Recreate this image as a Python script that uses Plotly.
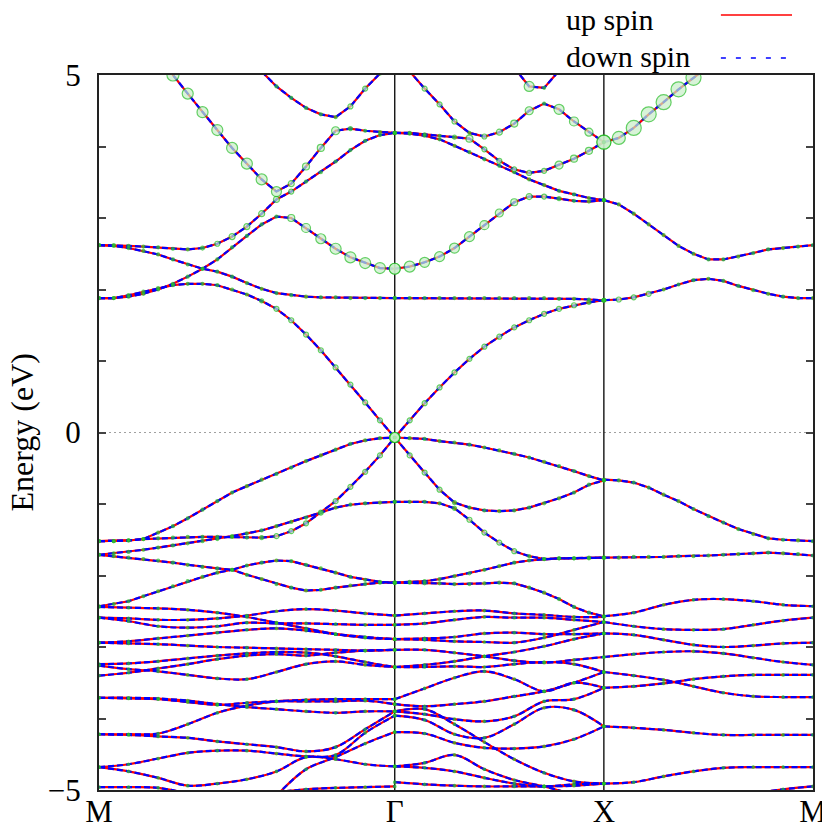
import numpy as np
import plotly.graph_objects as go

# path M -> Gamma -> X -> M
k_labels = ["M", "Γ", "X", "M"]
seg_len = [np.sqrt(2), 1.0, 1.0]
k_sym = np.concatenate([[0.0], np.cumsum(seg_len)])
n_fine = [21, 15, 15]     # k-points per segment of the calculation
n_coarse = [11, 8, 8]     # every second k-point

# ---------------- bands near the Fermi level (every k-point) ----------------
# M-Gamma
D_mg   = [1.88, 1.88, 1.92, 1.97, 2.02, 2.06, 2.08, 2.08, 2.06, 2.0, 1.93, 1.84, 1.73, 1.57, 1.37, 1.15, 0.91, 0.67, 0.42, 0.17, -0.07]
B2_mg  = [1.88, 1.88, 1.9, 1.94, 2.0, 2.08, 2.18, 2.29, 2.42, 2.59, 2.75, 2.91, 3.02, 3.0, 2.86, 2.71, 2.57, 2.45, 2.37, 2.3, 2.29]
B3_mg  = [2.62, 2.61, 2.58, 2.54, 2.49, 2.42, 2.35, 2.29, 2.25, 2.18, 2.09, 2.01, 1.95, 1.92, 1.9, 1.89, 1.89, 1.88, 1.88, 1.88, 1.88]
B4_mg  = [2.62, 2.62, 2.61, 2.6, 2.59, 2.57, 2.56, 2.58, 2.64, 2.74, 2.88, 3.06, 3.26, 3.37, 3.51, 3.64, 3.79, 3.95, 4.08, 4.16, 4.19]
B5_mg  = [None, None, None, None, 5.3, 5.0, 4.74, 4.48, 4.23, 3.98, 3.76, 3.54, 3.37, 3.48, 3.72, 3.98, 4.22, 4.25, 4.22, 4.2, 4.19]
B6_mg  = [None, None, None, None, None, None, None, None, None, None, None, 5.05, 4.84, 4.68, 4.54, 4.45, 4.41, 4.56, 4.81, 5.02, 5.3]
V1_mg  = [-1.52, -1.52, -1.51, -1.49, -1.4, -1.31, -1.2, -1.08, -0.96, -0.84, -0.75, -0.66, -0.58, -0.49, -0.4, -0.32, -0.24, -0.16, -0.11, -0.08, -0.07]
V2_mg  = [-1.52, -1.52, -1.51, -1.49, -1.48, -1.47, -1.46, -1.46, -1.46, -1.46, -1.47, -1.47, -1.45, -1.38, -1.27, -1.12, -0.96, -0.76, -0.55, -0.32, -0.07]
V3_mg  = [-1.71, -1.69, -1.67, -1.64, -1.61, -1.58, -1.55, -1.52, -1.49, -1.45, -1.41, -1.37, -1.31, -1.25, -1.19, -1.12, -1.05, -1.01, -0.99, -0.98, -0.97]
V6_mg  = [-1.71, -1.73, -1.75, -1.77, -1.79, -1.82, -1.85, -1.88, -1.9, -1.92, -1.86, -1.82, -1.79, -1.8, -1.85, -1.9, -1.96, -2.02, -2.06, -2.09, -2.1]
V7_mg  = [-2.43, -2.4, -2.36, -2.29, -2.22, -2.15, -2.08, -2.02, -1.96, -1.92, -1.99, -2.05, -2.12, -2.17, -2.21, -2.2, -2.17, -2.14, -2.12, -2.1, -2.1]
# Gamma-X
D_gx   = [-0.07, 0.17, 0.41, 0.63, 0.84, 1.03, 1.2, 1.34, 1.47, 1.57, 1.66, 1.73, 1.78, 1.82, 1.85]
B2_gx  = [2.29, 2.32, 2.38, 2.46, 2.58, 2.74, 2.9, 3.07, 3.22, 3.3, 3.3, 3.27, 3.24, 3.23, 3.25]
B3_gx  = [1.88, 1.88, 1.88, 1.88, 1.88, 1.88, 1.88, 1.88, 1.88, 1.88, 1.88, 1.87, 1.87, 1.86, 1.85]
B4_gx  = [4.19, 4.18, 4.15, 4.1, 4.01, 3.92, 3.82, 3.73, 3.64, 3.54, 3.46, 3.38, 3.33, 3.28, 3.25]
B5_gx  = [4.19, 4.19, 4.17, 4.15, 4.13, 4.11, 3.96, 3.8, 3.68, 3.63, 3.66, 3.74, 3.83, 3.94, 4.06]
T1_gx  = [5.4, 5.05, 4.81, 4.59, 4.35, 4.19, 4.14, 4.2, 4.32, 4.5, 4.6, 4.52, 4.35, 4.2, 4.06]
T2_gx  = [None, None, None, None, None, None, None, None, 5.1, 4.84, 4.82, 5.05, 5.3, None, None]
V1_gx  = [-0.07, -0.08, -0.09, -0.12, -0.14, -0.17, -0.21, -0.25, -0.3, -0.35, -0.41, -0.47, -0.54, -0.61, -0.67]
V2_gx  = [-0.07, -0.32, -0.56, -0.8, -0.98, -1.05, -1.09, -1.1, -1.09, -1.05, -0.99, -0.92, -0.84, -0.73, -0.67]
V3_gx  = [-0.97, -0.97, -0.97, -0.99, -1.06, -1.22, -1.4, -1.54, -1.66, -1.73, -1.77, -1.76, -1.76, -1.75, -1.75]
V4_gx  = [-2.1, -2.1, -2.11, -2.11, -2.12, -2.12, -2.11, -2.1, -2.11, -2.17, -2.24, -2.33, -2.44, -2.52, -2.57]
V5_gx  = [-2.1, -2.09, -2.08, -2.05, -2.01, -1.97, -1.92, -1.87, -1.82, -1.79, -1.77, -1.76, -1.76, -1.76, -1.75]
# X-M
D_xm   = [1.85, 1.86, 1.89, 1.94, 2.0, 2.07, 2.13, 2.15, 2.12, 2.05, 1.99, 1.94, 1.9, 1.88, 1.88]
B2_xm  = [3.25, 3.19, 3.06, 2.91, 2.76, 2.61, 2.5, 2.42, 2.42, 2.46, 2.51, 2.56, 2.58, 2.6, 2.62]
B5_xm  = [4.06, 4.12, 4.26, 4.45, 4.62, 4.8, 4.96, 5.12, 5.3, None, None, None, None, None, None]
V1_xm  = [-0.66, -0.67, -0.7, -0.77, -0.87, -0.96, -1.07, -1.17, -1.26, -1.35, -1.42, -1.48, -1.5, -1.51, -1.52]
V3_xm  = [-1.75, -1.75, -1.74, -1.74, -1.74, -1.73, -1.73, -1.72, -1.71, -1.7, -1.69, -1.68, -1.69, -1.7, -1.72]

# projected weight -> circle diameter (px)
w_D_mg  = [3, 3, 3, 3, 3, 3, 3, 3, 3, 3, 3, 4, 5, 5, 5, 5, 5, 5, 5, 5, 10]
w_B2_mg = [3, 3, 3, 3, 3, 3, 3, 3, 3, 3, 3, 3, 3, 7, 9, 10, 11, 11, 11, 11, 11]
w_B4_mg = [3, 3, 3, 3, 3, 3, 3, 4, 5, 6, 6, 6, 6, 5, 3, 3, 3, 3, 3, 3, 3]
w_B5_mg = [3, 3, 3, 3, 12, 12, 11, 11, 11, 11, 11, 11, 10, 6, 7, 7, 8, 4, 3, 3, 3]
w_B6_mg = [3, 3, 3, 3, 3, 3, 3, 3, 3, 3, 3, 3, 3, 3, 3, 3, 3, 5, 5, 3, 3]
w_V2_mg = [3, 3, 3, 3, 3, 3, 3, 3, 3, 3, 3, 4, 5, 5, 5, 5, 5, 5, 5, 5, 10]
w_D_gx  = [10, 5, 5, 5, 5, 5, 5, 5, 5, 5, 5, 5, 5, 4, 4]
w_B2_gx = [11, 11, 10, 10, 10, 10, 9, 8, 7, 6, 5, 4, 3, 3, 3]
w_B5_gx = [3, 3, 3, 3, 4, 7, 5, 5, 5, 5, 5, 8, 7, 7, 14]
w_T1_gx = [3, 3, 5, 5, 5, 3, 5, 6, 7, 8, 3, 10, 9, 8, 3]
w_T2_gx = [3, 3, 3, 3, 3, 3, 3, 3, 3, 10, 3, 3, 3, 3, 3]
w_V2_gx = [10, 5, 5, 5, 4, 3, 3, 3, 3, 3, 3, 3, 3, 3, 3]
w_V3_gx = [3, 3, 3, 3, 4, 5, 5, 5, 5, 3, 3, 3, 3, 3, 3]
w_D_xm  = [4, 5, 5, 5, 3, 3, 3, 3, 3, 3, 3, 3, 3, 3, 3]
w_B5_xm = [14, 13, 15, 15, 15, 15, 15, 15, 15, 3, 3, 3, 3, 3, 3]

# ---------------- deeper valence bands (every second k-point) ----------------
mg_low = [
    [-2.44, -2.45, -2.46, -2.48, -2.52, -2.58, -2.66, -2.74, -2.82, -2.87, -2.89],
    [-2.59, -2.6, -2.62, -2.62, -2.6, -2.56, -2.5, -2.47, -2.49, -2.53, -2.56],
    [-2.59, -2.64, -2.71, -2.73, -2.71, -2.66, -2.67, -2.67, -2.68, -2.69, -2.69],
    [-2.94, -2.95, -2.96, -2.98, -3.0, -3.01, -3.02, -3.03, -3.04, -3.05, -3.04],
    [-2.94, -2.92, -2.88, -2.84, -2.8, -2.76, -2.74, -2.77, -2.82, -2.86, -2.89],
    [-3.24, -3.23, -3.2, -3.16, -3.12, -3.09, -3.07, -3.08, -3.13, -3.21, -3.28],
    [-3.26, -3.31, -3.34, -3.39, -3.44, -3.45, -3.35, -3.24, -3.2, -3.25, -3.28],
    [-3.4, -3.36, -3.3, -3.24, -3.17, -3.12, -3.1, -3.12, -3.08, -3.05, -3.04],
    [-3.71, -3.71, -3.72, -3.75, -3.8, -3.84, -3.87, -3.9, -3.92, -3.9, -3.9],
    [-3.71, -3.72, -3.73, -3.77, -3.81, -3.78, -3.76, -3.76, -3.76, -3.75, -3.8],
    [-4.22, -4.22, -4.21, -4.08, -3.92, -3.82, -3.76, -3.74, -3.73, -3.73, -3.73],
    [-4.22, -4.23, -4.25, -4.27, -4.32, -4.36, -4.4, -4.46, -4.4, -4.15, -3.9],
    [-4.68, -4.64, -4.56, -4.48, -4.45, -4.45, -4.49, -4.53, -4.51, -4.2, -3.96],
    [-4.68, -4.74, -4.83, -4.94, -4.91, -4.85, -4.74, -4.54, -4.57, -4.64, -4.67],
    [None, None, None, None, None, None, -5.08, -4.71, -4.54, -4.35, -4.19],
    [-4.96, -4.96, -4.97, -5.05, None, None, -5.03, -4.99, -4.97, -4.96, -4.95],
]
gx_low = [
    [-2.56, -2.53, -2.5, -2.49, -2.53, -2.55, -2.58, -2.58],
    [-2.69, -2.67, -2.62, -2.58, -2.59, -2.59, -2.62, -2.65],
    [-2.89, -2.88, -2.86, -2.81, -2.8, -2.82, -2.82, -2.81],
    [-2.89, -2.9, -2.92, -2.93, -2.94, -2.87, -2.76, -2.65],
    [-3.04, -3.04, -3.08, -3.13, -3.19, -3.22, -3.18, -3.14],
    [-3.28, -3.25, -3.2, -3.13, -3.07, -2.99, -2.89, -2.81],
    [-3.28, -3.28, -3.27, -3.28, -3.24, -3.21, -3.24, -3.35],
    [-3.73, -3.58, -3.43, -3.34, -3.45, -3.62, -3.5, -3.57],
    [-3.8, -3.83, -3.8, -3.76, -3.69, -3.62, -3.5, -3.35],
    [-3.9, -3.94, -4.01, -4.04, -3.97, -3.76, -3.73, -3.57],
    [-3.96, -4.02, -4.22, -4.27, -4.08, -3.85, -3.88, -4.11],
    [-4.19, -4.21, -4.34, -4.41, -4.42, -4.39, -4.29, -4.11],
    [-3.9, -3.87, -4.08, -4.33, -4.57, -4.76, -4.88, -4.91],
    [-4.67, -4.62, -4.51, -4.71, -4.86, -4.95, -5.06, -5.13],
    [-4.67, -4.69, -4.74, -4.83, -4.91, -4.95, -4.92, -4.91],
    [-4.89, -4.92, -4.94, -4.95, -4.95, -4.95, -4.94, -4.91],
]
xm_low = [
    [-2.57, -2.52, -2.41, -2.34, -2.33, -2.36, -2.41, -2.43],
    [-2.65, -2.71, -2.75, -2.76, -2.75, -2.69, -2.63, -2.59],
    [-2.81, -2.83, -2.9, -2.97, -3.0, -2.98, -2.95, -2.94],
    [-3.14, -3.1, -3.07, -3.06, -3.09, -3.15, -3.21, -3.25],
    [-3.35, -3.4, -3.46, -3.55, -3.64, -3.69, -3.7, -3.7],
    [-3.57, -3.55, -3.51, -3.45, -3.41, -3.39, -3.39, -3.39],
    [-4.11, -4.13, -4.16, -4.2, -4.23, -4.23, -4.23, -4.23],
    [-4.91, -4.89, -4.81, -4.74, -4.69, -4.68, -4.68, -4.68],
    [None, None, None, None, None, -5.05, -4.99, -4.95],
]

fine = [
    (0, D_mg, w_D_mg), (0, B2_mg, w_B2_mg), (0, B3_mg, None), (0, B4_mg, w_B4_mg),
    (0, B5_mg, w_B5_mg), (0, B6_mg, w_B6_mg), (0, V1_mg, None), (0, V2_mg, w_V2_mg),
    (0, V3_mg, None), (0, V6_mg, None), (0, V7_mg, None),
    (1, D_gx, w_D_gx), (1, B2_gx, w_B2_gx), (1, B3_gx, None), (1, B4_gx, None),
    (1, B5_gx, w_B5_gx), (1, T1_gx, w_T1_gx), (1, T2_gx, w_T2_gx), (1, V1_gx, None),
    (1, V2_gx, w_V2_gx), (1, V3_gx, w_V3_gx), (1, V4_gx, None), (1, V5_gx, None),
    (2, D_xm, w_D_xm), (2, B2_xm, None), (2, B5_xm, w_B5_xm), (2, V1_xm, None), (2, V3_xm, None),
]
coarse = [(0, b) for b in mg_low] + [(1, b) for b in gx_low] + [(2, b) for b in xm_low]


def kgrid(seg, n):
    return np.linspace(k_sym[seg], k_sym[seg + 1], n)


def collect(items, npts):
    xs, ys = [], []
    for seg, e in items:
        k = kgrid(seg, npts[seg])
        xs += list(k) + [None]
        ys += list(e) + [None]
    return xs, ys


fx, fy = collect([(s, e) for s, e, w in fine], n_fine)
cx, cy = collect(coarse, n_coarse)

# marker points
mx, my, ms = [], [], []
for seg, e, w in fine:
    k = kgrid(seg, n_fine[seg])
    for i, v in enumerate(e):
        if v is None:
            continue
        mx.append(k[i]); my.append(v); ms.append(w[i] if w else 3)
for seg, e in coarse:
    k = kgrid(seg, n_coarse[seg])
    for i, v in enumerate(e):
        if v is None:
            continue
        mx.append(k[i]); my.append(v); ms.append(2.5)
mfill = ["#c8efc8" if s > 4 else "#33cc33" for s in ms]

fig = go.Figure()
for x, y, shape in [(fx, fy, "linear"), (cx, cy, "spline")]:
    fig.add_trace(go.Scatter(x=x, y=y, mode="lines", line=dict(color="#ff0000", width=2.2, shape=shape),
                             hoverinfo="skip", showlegend=False))
for x, y, shape in [(fx, fy, "linear"), (cx, cy, "spline")]:
    fig.add_trace(go.Scatter(x=x, y=y, mode="lines",
                             line=dict(color="#0000ff", width=2.2, dash="6px,3px", shape=shape),
                             hoverinfo="skip", showlegend=False))
fig.add_trace(go.Scatter(x=mx, y=my, mode="markers", hoverinfo="skip", showlegend=False,
                         marker=dict(size=ms, color=mfill, line=dict(color="#22bb22", width=1.2))))

# Fermi level and high-symmetry lines
fig.add_shape(type="line", xref="x", yref="y", x0=k_sym[0], x1=k_sym[-1], y0=0, y1=0,
              line=dict(color="#a0a0a0", width=1, dash="2px,3px"), layer="below")
for kv in k_sym[1:-1]:
    fig.add_shape(type="line", xref="x", yref="y", x0=kv, x1=kv, y0=-5, y1=5,
                  line=dict(color="black", width=1.3), layer="below")

# legend (text left, line sample right)
fig.add_annotation(x=0.6513, y=1.0783, xref="paper", yref="paper", text="up spin", showarrow=False,
                   xanchor="left", yanchor="middle", font=dict(size=30))
fig.add_annotation(x=0.6513, y=1.0252, xref="paper", yref="paper", text="down spin", showarrow=False,
                   xanchor="left", yanchor="middle", font=dict(size=30))
fig.add_shape(type="line", xref="paper", yref="paper", x0=0.871, x1=0.9706, y0=1.0839, y1=1.0839,
              line=dict(color="#ff0000", width=1.5))
fig.add_shape(type="line", xref="paper", yref="paper", x0=0.871, x1=0.9706, y0=1.0238, y1=1.0238,
              line=dict(color="#0000ff", width=1.5, dash="5px,10px"))
fig.add_annotation(x=-0.1092, y=0.5, xref="paper", yref="paper", text="Energy (eV)", showarrow=False,
                   textangle=-90, xanchor="center", yanchor="middle", font=dict(size=32))

yt = list(range(-5, 6))
fig.update_layout(
    width=822, height=829,
    margin=dict(l=91, r=17, t=67, b=47),
    plot_bgcolor="white", paper_bgcolor="white",
    font=dict(family="Liberation Serif, Times New Roman, serif", color="black", size=31),
    xaxis=dict(range=[k_sym[0], k_sym[-1]], tickvals=list(k_sym), ticktext=k_labels,
               showgrid=False, zeroline=False, showline=True, linecolor="#222", linewidth=2,
               mirror=True, ticks="", tickfont=dict(size=31), automargin=False,
               ticklabelstandoff=-7),
    yaxis=dict(range=[-5, 5], tickvals=yt, ticktext=["\u22125" if v == -5 else ("0" if v == 0 else ("5" if v == 5 else "")) for v in yt],
               showgrid=False, zeroline=False, showline=True, linecolor="#222", linewidth=2,
               mirror="ticks", ticks="inside", ticklen=7, tickwidth=1.5, tickcolor="#444",
               ticklabelstandoff=10, tickfont=dict(size=31), automargin=False),
)
fig.write_html("out.html")
